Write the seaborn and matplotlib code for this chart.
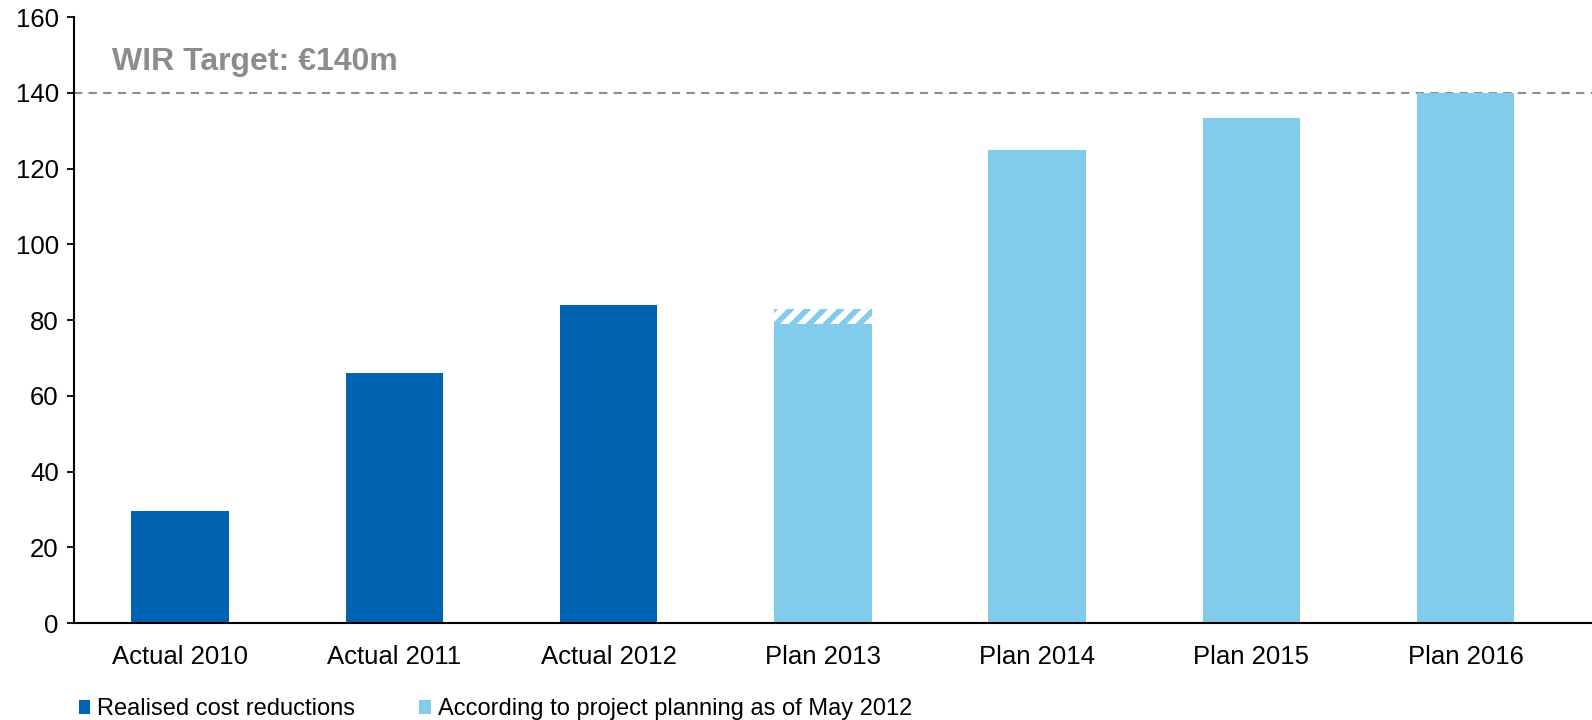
import matplotlib
matplotlib.use("Agg")
import matplotlib.pyplot as plt
from matplotlib.patches import Patch
import seaborn as sns
import pandas as pd

# Cost reduction programme (EUR m)
categories = ["Actual 2010", "Actual 2011", "Actual 2012", "Plan 2013",
              "Plan 2014", "Plan 2015", "Plan 2016"]
values = [29.5, 66, 84, 79, 125, 133.5, 140]
series = ["Realised cost reductions"] * 3 + \
         ["According to project planning as of May 2012"] * 4
# Additional planned reduction for 2013 shown as a hatched cap
upside_category = "Plan 2013"
upside_top = 83
target = 140
target_label = "WIR Target: €140m"
yticks = [0, 20, 40, 60, 80, 100, 120, 140, 160]

dark_blue = "#0063B1"
light_blue = "#82CBEA"
grey = "#8C8C8C"

sns.set_style("white")
plt.rcParams["font.family"] = ["Liberation Sans", "DejaVu Sans"]
plt.rcParams["hatch.color"] = light_blue
plt.rcParams["hatch.linewidth"] = 4.0

df = pd.DataFrame({"category": categories, "value": values, "series": series})

fig = plt.figure(figsize=(15.92, 7.2), dpi=100)
ax = fig.add_axes([0.0465, 0.1347, 0.9535, 0.8413])

palette = {series[0]: dark_blue, series[-1]: light_blue}
sns.barplot(data=df, x="category", y="value", hue="series", palette=palette,
            dodge=False, width=0.455, saturation=1, legend=False, ax=ax,
            linewidth=0)

# hatched cap on the 2013 plan bar
i13 = categories.index(upside_category)
v13 = values[i13]
ax.bar(i13, upside_top - v13, bottom=v13, width=0.455, color="white",
       edgecolor=light_blue, linewidth=0, hatch="//")

# target line and label
ax.axhline(target, color=grey, lw=1.5, dashes=(4, 3), zorder=0.5)
ax.text(0.025, 0.913, target_label, transform=ax.transAxes, color=grey,
        fontsize=23, fontweight="bold", ha="left", va="baseline")

ax.set_xlim(-0.495, 6.59)
ax.set_ylim(0, 160)
ax.set_yticks(yticks)
ax.set_xlabel("")
ax.set_ylabel("")

for side in ("top", "right"):
    ax.spines[side].set_visible(False)
for side in ("left", "bottom"):
    ax.spines[side].set_color("black")
    ax.spines[side].set_linewidth(1.5)

ax.tick_params(axis="y", direction="out", length=5, width=1.3, colors="black",
               labelsize=18.5, pad=6, left=True)
ax.tick_params(axis="x", length=0, labelsize=18.5, pad=16, colors="black")

handles = [Patch(facecolor=dark_blue, edgecolor="none", label=series[0]),
           Patch(facecolor=light_blue, edgecolor="none", label=series[-1])]
fig.legend(handles=handles, loc="lower left", bbox_to_anchor=(0.036, -0.03),
           ncol=2, frameon=False, fontsize=17, handlelength=0.5,
           handleheight=0.55, handletextpad=0.3, columnspacing=2.7,
           labelcolor="black")

fig.savefig("out.png", dpi=100)
